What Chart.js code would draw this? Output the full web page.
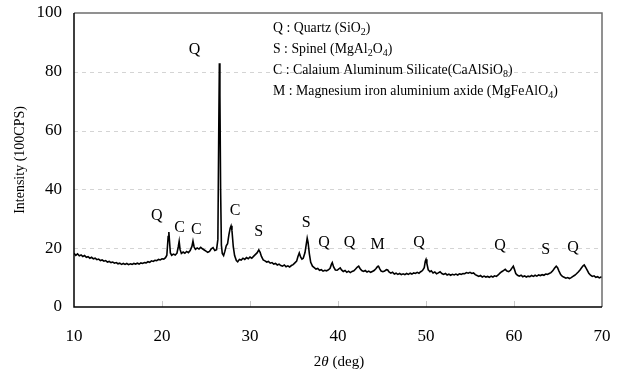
<!DOCTYPE html>
<html>
<head>
<meta charset="utf-8">
<script src="https://cdn.jsdelivr.net/npm/chart.js@4.4.1/dist/chart.umd.min.js"></script>
<style>
  html, body { margin: 0; padding: 0; background: #fff; }
  #wrap { width: 623px; height: 374px; position: relative; }
</style>
</head>
<body>
<div id="wrap"><canvas id="xrd"></canvas></div>
<script>
// XRD pattern
const twoTheta = [
  10.0, 10.2, 10.4, 10.6, 10.8, 11.0, 11.2, 11.4, 11.6, 11.8,
  12.0, 12.2, 12.4, 12.6, 12.8, 13.0, 13.2, 13.4, 13.6, 13.8,
  14.0, 14.2, 14.4, 14.6, 14.8, 15.0, 15.2, 15.4, 15.6, 15.8,
  16.0, 16.2, 16.4, 16.6, 16.8, 17.0, 17.2, 17.4, 17.6, 17.8,
  18.0, 18.2, 18.4, 18.6, 18.8, 19.0, 19.2, 19.4, 19.6, 19.8,
  20.0, 20.2, 20.4, 20.55, 20.7, 20.78, 20.85, 20.95, 21.1, 21.3,
  21.5, 21.7, 21.85, 21.95, 22.05, 22.2, 22.4, 22.6, 22.8, 23.0,
  23.2, 23.4, 23.52, 23.65, 23.8, 24.0, 24.2, 24.4, 24.6, 24.8,
  25.0, 25.2, 25.4, 25.6, 25.8, 26.0, 26.2, 26.35, 26.45, 26.52,
  26.58, 26.66, 26.75, 26.85, 27.0, 27.15, 27.3, 27.45, 27.6, 27.75,
  27.85, 27.95, 28.1, 28.25, 28.45, 28.6, 28.8, 29.0, 29.2, 29.4,
  29.6, 29.8, 30.0, 30.2, 30.4, 30.6, 30.8, 31.0, 31.15, 31.3,
  31.5, 31.7, 31.9, 32.1, 32.3, 32.5, 32.7, 32.9, 33.1, 33.3,
  33.5, 33.7, 33.9, 34.1, 34.3, 34.5, 34.7, 34.9, 35.1, 35.3,
  35.45, 35.6, 35.75, 35.9, 36.05, 36.25, 36.4, 36.5, 36.6, 36.75,
  36.9, 37.1, 37.3, 37.5, 37.7, 37.9, 38.1, 38.3, 38.5, 38.7,
  38.9, 39.1, 39.25, 39.35, 39.5, 39.7, 39.9, 40.1, 40.25, 40.4,
  40.6, 40.8, 41.0, 41.2, 41.4, 41.6, 41.8, 42.0, 42.2, 42.35,
  42.5, 42.7, 42.9, 43.1, 43.3, 43.5, 43.7, 43.9, 44.1, 44.3,
  44.5, 44.6, 44.75, 44.9, 45.1, 45.3, 45.5, 45.65, 45.8, 46.0,
  46.2, 46.4, 46.6, 46.8, 47.0, 47.2, 47.4, 47.6, 47.8, 48.0,
  48.2, 48.4, 48.6, 48.8, 49.0, 49.2, 49.4, 49.6, 49.8, 49.92,
  50.0, 50.1, 50.25, 50.45, 50.6, 50.8, 51.0, 51.2, 51.4, 51.6,
  51.8, 52.0, 52.2, 52.4, 52.6, 52.8, 53.0, 53.2, 53.4, 53.6,
  53.8, 54.0, 54.2, 54.4, 54.6, 54.8, 55.0, 55.2, 55.4, 55.6,
  55.8, 56.0, 56.2, 56.4, 56.6, 56.8, 57.0, 57.2, 57.4, 57.6,
  57.8, 58.0, 58.2, 58.4, 58.6, 58.8, 59.0, 59.2, 59.4, 59.6,
  59.8, 59.92, 60.05, 60.2, 60.4, 60.6, 60.8, 61.0, 61.2, 61.4,
  61.6, 61.8, 62.0, 62.2, 62.4, 62.6, 62.8, 63.0, 63.2, 63.4,
  63.6, 63.8, 64.0, 64.2, 64.4, 64.6, 64.8, 64.95, 65.1, 65.3,
  65.5, 65.7, 65.9, 66.1, 66.3, 66.5, 66.7, 66.9, 67.1, 67.3,
  67.5, 67.7, 67.85, 67.98, 68.1, 68.3, 68.5, 68.7, 68.9, 69.1,
  69.3, 69.5, 69.7, 69.9, 70.0
];
const intensity = [
  18.3, 17.6, 18.1, 17.4, 17.7, 17.2, 17.5, 16.9, 17.1, 16.6,
  16.9, 16.4, 16.6, 16.1, 16.3, 15.8, 16.0, 15.6, 15.8, 15.3,
  15.5, 15.1, 15.3, 14.9, 15.1, 14.7, 14.9, 14.5, 14.8, 14.5,
  14.8, 14.4, 14.7, 14.5, 14.8, 14.6, 14.9, 14.6, 15.0, 14.8,
  15.1, 15.0, 15.4, 15.2, 15.7, 15.5, 15.9, 15.8, 16.2, 16.0,
  16.4, 16.3, 16.8, 17.6, 24.0, 25.5, 22.5, 18.4, 17.6, 18.0,
  17.7, 18.3, 20.5, 22.3, 19.6, 18.2, 18.7, 18.3, 18.9, 18.5,
  19.2, 20.6, 22.4, 20.4, 19.6, 20.1, 19.7, 20.3, 19.8, 19.4,
  19.0, 18.6, 18.9, 19.8, 20.2, 19.2, 19.5, 23.0, 60.0, 82.9,
  72.0, 40.0, 21.0, 18.2, 17.5, 19.0, 20.8, 21.5, 24.5, 26.8,
  27.6, 26.0, 20.5, 17.5, 15.8, 15.4, 16.2, 16.0, 16.6, 16.2,
  16.8, 16.4, 17.0, 16.6, 17.2, 17.8, 18.4, 19.4, 18.6, 17.2,
  16.0, 15.7, 15.3, 15.5, 14.9, 15.1, 14.6, 14.8, 14.3, 14.6,
  14.1, 13.9, 14.3, 13.7, 14.0, 13.6, 14.1, 14.4, 15.0, 15.6,
  17.2, 18.4, 17.0, 16.3, 16.6, 18.5, 21.5, 23.4, 22.0, 18.0,
  15.2, 13.9, 13.4, 12.9, 13.1, 12.5, 12.7, 12.2, 12.5, 12.3,
  12.6, 13.2, 14.5, 15.1, 13.6, 12.6, 12.5, 13.0, 13.3, 12.6,
  12.1, 12.4, 11.8, 12.2, 11.7, 12.1, 12.3, 12.9, 13.6, 13.9,
  13.1, 12.4, 12.1, 12.4, 11.9, 12.2, 11.8, 12.1, 12.4, 13.0,
  13.8, 13.9, 13.0, 12.2, 12.0, 12.2, 12.7, 12.6, 11.9, 11.5,
  11.8, 11.2, 11.5, 11.1, 11.4, 11.0, 11.3, 11.0, 11.4, 11.1,
  11.5, 11.2, 11.6, 11.4, 11.8, 11.5, 12.0, 12.4, 13.4, 15.6,
  16.2, 14.8, 12.7, 12.0, 12.3, 11.6, 11.9, 11.3, 11.6, 12.0,
  11.4, 11.1, 11.4, 10.9, 11.2, 10.8, 11.1, 10.9, 11.2, 10.9,
  11.3, 11.1, 11.4, 11.3, 11.7, 11.5, 11.8, 11.4, 11.6, 11.0,
  10.7, 10.4, 10.7, 10.2, 10.5, 10.2, 10.4, 10.1, 10.5, 10.2,
  10.6, 10.4, 10.9, 11.5, 12.0, 12.4, 12.8, 12.2, 12.0, 12.5,
  13.4, 13.9, 12.8, 11.4, 10.8, 10.5, 10.8, 10.3, 10.6, 10.2,
  10.5, 10.3, 10.7, 10.4, 10.8, 10.5, 10.9, 10.7, 11.0, 10.8,
  11.2, 11.1, 11.4, 11.7, 12.3, 13.2, 13.9, 13.4, 12.3, 11.0,
  10.4, 10.1, 9.8, 10.0, 9.7, 10.0, 10.4, 10.8, 11.3, 11.9,
  12.6, 13.4, 14.0, 14.3, 13.7, 12.6, 11.5, 10.8, 10.4, 10.6,
  10.1, 10.3, 9.9, 10.2, 10.0
];

// phase letters above the peaks
const peakLetters = ['Q', 'Q', 'C', 'C', 'C', 'S', 'S', 'Q', 'Q', 'M', 'Q', 'Q', 'S', 'Q'];
const peakLetterX = [23.7, 19.4, 22.0, 23.9, 28.3, 31.0, 36.4, 38.4, 41.3, 44.5, 49.2, 58.4, 63.6, 66.7];
const peakLetterY = [87.6, 31.0, 27.0, 26.4, 32.7, 25.6, 28.5, 21.7, 21.7, 21.3, 22.0, 20.9, 19.6, 20.0];

// phase key: pieces of text, second item = subscript
const keyLines = [
  [['Q : Quartz (SiO', 0], ['2', 1], [')', 0]],
  [['S : Spinel (MgAl', 0], ['2', 1], ['O', 0], ['4', 1], [')', 0]],
  [['C : Calaium Aluminum Silicate(CaAlSiO', 0], ['8', 1], [')', 0]],
  [['M : Magnesium iron aluminium axide (MgFeAlO', 0], ['4', 1], [')', 0]]
];

const xTicks = [10, 20, 30, 40, 50, 60, 70];
const yTicks = [0, 20, 40, 60, 80, 100];

const serif = '"Liberation Serif", "Times New Roman", serif';

const decorate = {
  id: 'decorate',
  beforeDatasetsDraw(chart) {
    const { ctx, chartArea: a, scales: { x, y } } = chart;
    ctx.save();
    // dashed horizontal grid
    ctx.strokeStyle = '#d4d4d4';
    ctx.lineWidth = 1;
    ctx.setLineDash([4, 4]);
    yTicks.slice(1, -1).forEach(v => {
      const py = Math.round(y.getPixelForValue(v)) + 0.5;
      ctx.beginPath();
      ctx.moveTo(a.left, py);
      ctx.lineTo(a.right, py);
      ctx.stroke();
    });
    ctx.setLineDash([]);
    // small inner ticks on the x axis
    ctx.strokeStyle = '#c8c8c8';
    xTicks.slice(1, -1).forEach(v => {
      const px = Math.round(x.getPixelForValue(v)) + 0.5;
      ctx.beginPath();
      ctx.moveTo(px, a.bottom);
      ctx.lineTo(px, a.bottom - 6);
      ctx.stroke();
    });
    ctx.restore();
  },
  afterDatasetsDraw(chart) {
    const { ctx, chartArea: a, scales: { x, y } } = chart;
    ctx.save();
    // grey top / right frame
    ctx.strokeStyle = '#6e6e6e';
    ctx.lineWidth = 1.5;
    ctx.beginPath();
    ctx.moveTo(a.left, a.top);
    ctx.lineTo(a.right, a.top);
    ctx.lineTo(a.right, a.bottom);
    ctx.stroke();
    // black axes
    ctx.strokeStyle = '#000';
    ctx.beginPath();
    ctx.moveTo(a.left, a.top);
    ctx.lineTo(a.left, a.bottom);
    ctx.lineTo(a.right, a.bottom);
    ctx.stroke();

    // peak letters
    ctx.fillStyle = '#000';
    ctx.font = '16px ' + serif;
    ctx.textAlign = 'center';
    ctx.textBaseline = 'middle';
    peakLetters.forEach((t, i) => {
      ctx.fillText(t, x.getPixelForValue(peakLetterX[i]), y.getPixelForValue(peakLetterY[i]));
    });

    // key
    ctx.textAlign = 'left';
    ctx.textBaseline = 'alphabetic';
    keyLines.forEach((parts, i) => {
      let px = 273;
      const base = 32 + i * 21;
      parts.forEach(([s, sub]) => {
        ctx.font = (sub ? '10px ' : '13.8px ') + serif;
        ctx.fillText(s, px, base + (sub ? 3 : 0));
        px += ctx.measureText(s).width;
      });
    });

    // y title
    ctx.font = '14px ' + serif;
    ctx.textAlign = 'center';
    ctx.textBaseline = 'middle';
    ctx.save();
    ctx.translate(20, (a.top + a.bottom) / 2);
    ctx.rotate(-Math.PI / 2);
    ctx.fillText('Intensity (100CPS)', 0, 0);
    ctx.restore();

    // x title: 2θ (deg) with italic theta
    const pieces = [['2', '15px '], ['θ', 'italic 15px '], [' (deg)', '15px ']];
    let total = 0;
    pieces.forEach(([s, f]) => { ctx.font = f + serif; total += ctx.measureText(s).width; });
    let px = 339 - total / 2;
    ctx.textAlign = 'left';
    pieces.forEach(([s, f]) => {
      ctx.font = f + serif;
      ctx.fillText(s, px, 362);
      px += ctx.measureText(s).width;
    });
    ctx.restore();
  }
};

new Chart(document.getElementById('xrd'), {
  type: 'scatter',
  data: {
    datasets: [{
      data: twoTheta.map((t, i) => ({ x: t, y: intensity[i] })),
      showLine: true,
      borderColor: '#000',
      borderWidth: 1.6,
      pointRadius: 0,
      tension: 0
    }]
  },
  options: {
    responsive: true,
    maintainAspectRatio: false,
    animation: false,
    layout: { padding: { top: 13, right: 21, left: 0, bottom: 0 } },
    plugins: { legend: { display: false }, tooltip: { enabled: false } },
    scales: {
      x: {
        type: 'linear',
        min: 10,
        max: 70,
        afterBuildTicks: s => { s.ticks = xTicks.map(v => ({ value: v })); },
        afterFit: s => { s.height = 67; s.paddingLeft = 0; s.paddingRight = 0; },
        grid: { display: false, drawTicks: false },
        border: { display: false },
        ticks: { color: '#000', padding: 19, font: { family: serif, size: 17 } }
      },
      y: {
        min: 0,
        max: 100,
        afterBuildTicks: s => { s.ticks = yTicks.map(v => ({ value: v })); },
        afterFit: s => { s.width = 74; s.paddingTop = 0; s.paddingBottom = 0; },
        grid: { display: false, drawTicks: false },
        border: { display: false },
        ticks: { color: '#000', padding: 12, font: { family: serif, size: 17 } }
      }
    }
  },
  plugins: [decorate]
});
</script>
</body>
</html>
